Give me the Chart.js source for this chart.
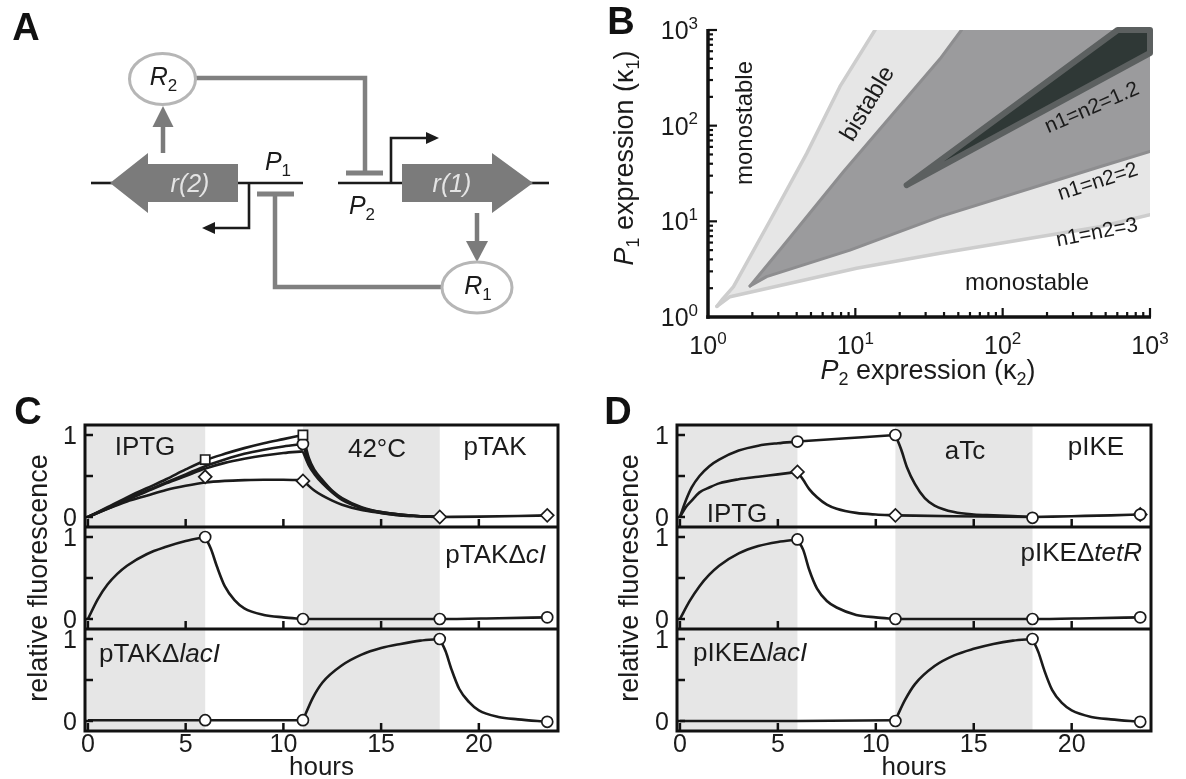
<!DOCTYPE html>
<html>
<head>
<meta charset="utf-8">
<script src="https://cdn.jsdelivr.net/npm/chart.js@4.4.1/dist/chart.umd.min.js"></script>
<style>
  html, body { margin:0; padding:0; background:#ffffff; }
  body { width:1186px; height:779px; position:relative; overflow:hidden; }
  canvas { position:absolute; }
</style>
</head>
<body>
<canvas id="cA" width="600" height="330" style="left:0px;top:0px"></canvas>
<canvas id="cB" width="586" height="400" style="left:600px;top:0px"></canvas>
<canvas id="cC" width="595" height="384" style="left:0px;top:395px"></canvas>
<canvas id="cD" width="591" height="384" style="left:595px;top:395px"></canvas>
<script>
const FONT = '"Liberation Sans", Arial, Helvetica, sans-serif';
const INK = '#1b1b1b';

// ================= Panel B data (P2 expression κ2 on x, P1 expression κ1 on y) =================
const bDecades = [1, 10, 100, 1000];
const bDecadeExp = ['0', '1', '2', '3'];
// n1=n2=3 region (light)
const bN3K2 = [1.15, 1.26, 1.49, 2.64, 4.68, 7.87, 13.6, 1000, 1000, 457, 37.6, 10.2, 3.61, 1.41, 1.15];
const bN3K1 = [1.29, 1.55, 2.08, 10.2, 51.3, 257, 1000, 1000, 11.7, 8.79, 4.63, 3.23, 2.25, 1.63, 1.29];
// n1=n2=2 region (medium)
const bN2K2 = [1.93, 3.16, 8.3, 37.6, 52.5, 1000, 1000, 457, 37.6, 9.2, 2.5, 1.93];
const bN2K1 = [2.11, 5.3, 33, 500, 1000, 1000, 53.7, 37.2, 11.2, 5.0, 2.64, 2.11];
// n1=n2=1.2 region (dark)
const bN12K2 = [22.3, 603, 1000, 1000, 22.3];
const bN12K1 = [23.9, 1000, 1000, 575, 23.9];

// ================= Panels C / D data =================
const hourTicks = [0, 5, 10, 15, 20];
const hourTickLabels = ['0', '5', '10', '15', '20'];
const fluorTicks = [0, 0.5, 1];
const fluorTickLabels = ['0', '', '1'];
const shadeIntervals = [[-1, 6], [11, 18]];

// --- C top: pTAK (four fitted curves) ---
const tRise11 = [0, 1, 2, 3, 4, 5, 6, 7, 8, 9, 10, 11];
const pTAK1Rise = [0, 0.12, 0.24, 0.35, 0.46, 0.58, 0.69, 0.77, 0.84, 0.90, 0.95, 1.00];
const pTAK2Rise = [0, 0.11, 0.22, 0.32, 0.42, 0.52, 0.62, 0.70, 0.77, 0.82, 0.86, 0.89];
const pTAK3Rise = [0, 0.10, 0.21, 0.31, 0.41, 0.50, 0.59, 0.66, 0.71, 0.75, 0.78, 0.80];
const pTAK4Rise = [0, 0.10, 0.19, 0.26, 0.33, 0.38, 0.42, 0.44, 0.45, 0.455, 0.455, 0.45];
const tHeat = [11, 11.3, 11.6, 12, 12.5, 13, 14, 15, 16, 17, 18];
const pTAK1Heat = [1.00, 0.72, 0.57, 0.45, 0.32, 0.23, 0.12, 0.06, 0.03, 0.01, 0];
const pTAK2Heat = [0.89, 0.68, 0.55, 0.43, 0.31, 0.22, 0.11, 0.06, 0.03, 0.01, 0];
const pTAK3Heat = [0.80, 0.63, 0.52, 0.41, 0.30, 0.21, 0.11, 0.05, 0.02, 0.01, 0];
const pTAK4Heat = [0.45, 0.38, 0.32, 0.26, 0.20, 0.15, 0.085, 0.05, 0.02, 0.01, 0];
const tLate = [18, 20, 22, 23.5];
const pTAKLate = [0, 0.005, 0.012, 0.02];
const pTAKSquareT = [6, 11];       const pTAKSquareV = [0.70, 1.00];
const pTAKCircleT = [11];          const pTAKCircleV = [0.89];
const pTAKDiamondT = [6, 11, 18, 23.5]; const pTAKDiamondV = [0.49, 0.44, 0.0, 0.02];

// --- C middle: pTAKΔcI ---
const tA6 = [0, 0.5, 1, 1.5, 2, 3, 4, 5, 6];
const tDrop6 = [6, 6.3, 6.6, 7, 7.5, 8, 9, 10, 11];
const tFlat11 = [11, 14, 18, 21, 23.5];
const tMarks = [6, 11, 18, 23.5];
const cIRise = [0, 0.24, 0.42, 0.55, 0.65, 0.79, 0.88, 0.95, 1.00];
const cIDrop = [1.00, 0.85, 0.64, 0.40, 0.23, 0.13, 0.05, 0.02, 0.0];
const cIFlat = [0, 0, 0, 0.01, 0.02];
const cIMarks = [1.00, 0.0, 0.0, 0.02];

// --- C bottom: pTAKΔlacI ---
const tEarly = [0, 6, 11];
const tB11 = [11, 11.5, 12, 13, 14, 15, 16, 17, 18];
const tDrop18 = [18, 18.3, 18.6, 19, 19.5, 20, 21, 22, 23.5];
const cLacFlat = [0.01, 0.01, 0.01];
const cLacRise = [0.01, 0.28, 0.47, 0.68, 0.81, 0.89, 0.94, 0.98, 1.00];
const cLacDrop = [1.00, 0.85, 0.63, 0.39, 0.23, 0.13, 0.05, 0.02, -0.01];
const cLacMarks = [0.01, 0.01, 1.00, -0.01];

// --- D top: pIKE ---
const tD6 = [0, 0.3, 0.6, 1, 1.5, 2, 3, 4, 5, 6];
const pIKEoRise = [0, 0.20, 0.36, 0.50, 0.62, 0.70, 0.81, 0.87, 0.90, 0.92];
const tD611 = [6, 8.5, 11];
const pIKEoMid = [0.92, 0.96, 1.00];
const tDaTc = [11, 11.3, 11.6, 12, 12.5, 13, 14, 15, 16, 18];
const pIKEoDrop = [1.00, 0.82, 0.60, 0.40, 0.23, 0.14, 0.06, 0.03, 0.02, 0.0];
const pIKEoLate = [0, 0.01, 0.02, 0.03];
const pIKEdRise = [0, 0.12, 0.20, 0.30, 0.36, 0.41, 0.46, 0.49, 0.52, 0.55];
const pIKEdDrop = [0.55, 0.45, 0.34, 0.24, 0.15, 0.10, 0.05, 0.03, 0.02];
const tD1118 = [11, 14, 18];
const pIKEdFlat = [0.02, 0.01, 0.0];
const pIKECircleT = [6, 11, 18, 23.5];  const pIKECircleV = [0.92, 1.00, -0.01, 0.03];
const pIKEDiamondT = [6, 11, 23.5];     const pIKEDiamondV = [0.55, 0.02, 0.03];

// --- D middle: pIKEΔtetR ---
const tetRRise = [0, 0.22, 0.40, 0.54, 0.65, 0.80, 0.89, 0.94, 0.97];
const tetRDrop = [0.97, 0.84, 0.60, 0.37, 0.22, 0.14, 0.05, 0.02, 0.0];
const tetRFlat = [0, 0, 0, 0.01, 0.02];
const tetRMarks = [0.97, 0.0, 0.0, 0.02];

// --- D bottom: pIKEΔlacI ---
const dLacFlat = [0.0, 0.0, 0.01];
const dLacRise = [0.01, 0.26, 0.45, 0.67, 0.80, 0.88, 0.94, 0.98, 1.00];
const dLacDrop = [1.00, 0.84, 0.62, 0.38, 0.22, 0.13, 0.05, 0.02, -0.01];
const dLacMarkT = [11, 18, 23.5];
const dLacMarkV = [0.0, 1.00, -0.01];

// ================= helpers =================
function pts(xs, ys) { return xs.map((x, i) => ({ x: x, y: ys[i] })); }

function drawRich(ctx, segs, x, y, o) {
  o = o || {};
  const size = o.size || 26;
  const small = Math.round(size * 0.66);
  segs = segs.map(s => typeof s === 'string' ? { t: s } : s);
  ctx.save();
  ctx.translate(x, y);
  if (o.rot) ctx.rotate(o.rot);
  const f = s => (s.i ? 'italic ' : '') + (o.bold ? 'bold ' : '') + ((s.sub || s.sup) ? small : size) + 'px ' + FONT;
  let total = 0;
  const ws = segs.map(s => { ctx.font = f(s); const w = ctx.measureText(s.t).width; total += w; return w; });
  let cx = o.align === 'right' ? -total : (o.align === 'left' ? 0 : -total / 2);
  ctx.fillStyle = o.color || INK;
  ctx.textAlign = 'left';
  ctx.textBaseline = o.baseline || 'alphabetic';
  segs.forEach((s, i) => {
    ctx.font = f(s);
    const dy = s.sub ? size * 0.24 : (s.sup ? -size * 0.42 : 0);
    ctx.fillText(s.t, cx, dy);
    cx += ws[i];
  });
  ctx.restore();
}
function seg(ctx, x1, y1, x2, y2) { ctx.beginPath(); ctx.moveTo(x1, y1); ctx.lineTo(x2, y2); ctx.stroke(); }

// ================= Panel A (schematic) =================
const aDeco = {
  id: 'aDeco',
  afterDraw(chart) {
    const { ctx, scales } = chart;
    const X = v => scales.x.getPixelForValue(v), Y = v => scales.y.getPixelForValue(v);
    const poly = (p, fill) => { ctx.beginPath(); p.forEach((q, i) => i ? ctx.lineTo(X(q[0]), Y(q[1])) : ctx.moveTo(X(q[0]), Y(q[1]))); ctx.closePath(); ctx.fillStyle = fill; ctx.fill(); };
    const path = (p, color, w) => { ctx.beginPath(); p.forEach((q, i) => i ? ctx.lineTo(X(q[0]), Y(q[1])) : ctx.moveTo(X(q[0]), Y(q[1]))); ctx.strokeStyle = color; ctx.lineWidth = w; ctx.lineJoin = 'miter'; ctx.lineCap = 'butt'; ctx.stroke(); };
    const GENE = '#7b7b7b', INH = '#808080', ELL = '#b6b6b6';
    ctx.save();
    path([[91, 183], [112, 183]], INK, 2.6);
    path([[236, 183], [303, 183]], INK, 2.6);
    path([[338, 183], [404, 183]], INK, 2.6);
    path([[530, 183], [549, 183]], INK, 2.6);
    poly([[110, 183], [148, 153], [148, 164], [238, 164], [238, 202], [148, 202], [148, 213]], GENE);
    poly([[402, 164], [492, 164], [492, 153], [533, 183], [492, 213], [492, 202], [402, 202]], GENE);
    drawRich(ctx, [{ t: 'r(2)', i: true }], X(190), Y(192), { size: 25, color: '#e4e4e4' });
    drawRich(ctx, [{ t: 'r(1)', i: true }], X(452), Y(192), { size: 25, color: '#e4e4e4' });
    path([[249, 183], [249, 228], [213, 228]], INK, 2.6);
    poly([[202, 228], [215, 222], [215, 234]], INK);
    path([[391, 183], [391, 138], [428, 138]], INK, 2.6);
    poly([[439, 138], [426, 132], [426, 144]], INK);
    path([[257, 194], [294, 194]], INH, 5);
    path([[275, 196], [275, 287], [445, 287]], INH, 4.5);
    path([[346, 173], [383, 173]], INH, 5);
    path([[365, 171], [365, 78], [194, 78]], INH, 4.5);
    path([[163, 153], [163, 124]], GENE, 4.5);
    poly([[163, 106], [152.5, 127], [173.5, 127]], GENE);
    path([[477, 213], [477, 243]], GENE, 4.5);
    poly([[477, 262], [466, 241], [488, 241]], GENE);
    [[162.5, 79, 33, 25.5, '2'], [477, 287.5, 35, 25.5, '1']].forEach(e => {
      ctx.beginPath();
      ctx.ellipse(X(e[0]), Y(e[1]), e[2], e[3], 0, 0, Math.PI * 2);
      ctx.fillStyle = '#fff'; ctx.fill();
      ctx.strokeStyle = ELL; ctx.lineWidth = 3; ctx.stroke();
      drawRich(ctx, [{ t: 'R', i: true }, { t: e[4], sub: true }], X(e[0]) + 1, Y(e[1]) + 6, { size: 25 });
    });
    drawRich(ctx, [{ t: 'P', i: true }, { t: '1', sub: true }], X(278), Y(170), { size: 25 });
    drawRich(ctx, [{ t: 'P', i: true }, { t: '2', sub: true }], X(362), Y(214), { size: 25 });
    drawRich(ctx, ['A'], 26, 40, { size: 38, bold: true, color: '#111' });
    ctx.restore();
  }
};
new Chart(document.getElementById('cA'), {
  type: 'line',
  data: { datasets: [] },
  options: {
    responsive: false, animation: false, events: [],
    layout: { padding: 0 },
    scales: {
      x: { type: 'linear', min: 0, max: 600, display: false },
      y: { type: 'linear', min: 0, max: 330, reverse: true, display: false }
    },
    plugins: { legend: { display: false }, tooltip: { enabled: false } }
  },
  plugins: [aDeco]
});

// ================= Panel B =================
const bOff = { x: 600, y: 0 };
function regionFill(xs, ys, color, clip) {
  return { data: pts(xs, ys), fill: 'shape', backgroundColor: color, borderWidth: 0, borderColor: 'rgba(0,0,0,0)',
           pointRadius: 0, tension: 0, clip: clip };
}
function regionEdge(xs, ys, color, width) {
  return { data: pts(xs, ys), fill: false, borderColor: color, borderWidth: width, borderCapStyle: 'round',
           borderJoinStyle: 'round', pointRadius: 0, tension: 0, clip: 0 };
}
const bDeco = {
  id: 'bDeco',
  afterDatasetsDraw(chart) {
    const { ctx, chartArea: a, scales } = chart;
    const xs = scales.x, ys = scales.y;
    const L = (gx, gy) => [gx - bOff.x, gy - bOff.y];
    ctx.save();
    let p;
    p = L(745, 123); drawRich(ctx, ['monostable'], p[0], p[1], { size: 24, rot: -Math.PI / 2, baseline: 'middle' });
    p = L(868, 104); drawRich(ctx, ['bistable'], p[0], p[1], { size: 24, rot: -59 * Math.PI / 180, baseline: 'middle' });
    p = L(1092, 108); drawRich(ctx, ['n1=n2=1.2'], p[0], p[1], { size: 21, rot: -23.5 * Math.PI / 180, baseline: 'middle' });
    p = L(1098, 182); drawRich(ctx, ['n1=n2=2'], p[0], p[1], { size: 21, rot: -18 * Math.PI / 180, baseline: 'middle' });
    p = L(1097, 233); drawRich(ctx, ['n1=n2=3'], p[0], p[1], { size: 21, rot: -11 * Math.PI / 180, baseline: 'middle' });
    p = L(1027, 283); drawRich(ctx, ['monostable'], p[0], p[1], { size: 24, baseline: 'middle' });
    ctx.strokeStyle = '#111'; ctx.lineCap = 'butt';
    ctx.lineWidth = 3.5;
    seg(ctx, a.left, a.top - 1, a.left, a.bottom + 1.75);
    seg(ctx, a.left - 1.75, a.bottom, a.right + 1, a.bottom);
    ctx.lineWidth = 2.2;
    for (let k = 0; k < 3; k++) {
      for (let m = 1; m <= 9; m++) {
        const v = m * bDecades[k];
        const len = m === 1 ? 9 : 5;
        const px = xs.getPixelForValue(v), py = ys.getPixelForValue(v);
        if (m > 1 || k > 0) {
          seg(ctx, px, a.bottom, px, a.bottom - len);
          seg(ctx, a.left, py, a.left + len, py);
        }
      }
    }
    const top = 1000;
    seg(ctx, xs.getPixelForValue(top), a.bottom, xs.getPixelForValue(top), a.bottom - 9);
    seg(ctx, a.left, ys.getPixelForValue(top), a.left + 9, ys.getPixelForValue(top));
    bDecades.forEach((v, i) => {
      const py = ys.getPixelForValue(v);
      drawRich(ctx, ['10', { t: bDecadeExp[i], sup: true }], a.left - 10, py + 9, { size: 25, align: 'right' });
      const px = xs.getPixelForValue(v);
      drawRich(ctx, ['10', { t: bDecadeExp[i], sup: true }], px, 354 - bOff.y, { size: 25, align: 'center' });
    });
    drawRich(ctx, [{ t: 'P', i: true }, { t: '1', sub: true }, ' expression (', 'κ', { t: '1', sub: true }, ')'], 633 - bOff.x, 158, { size: 27, rot: -Math.PI / 2 });
    drawRich(ctx, [{ t: 'P', i: true }, { t: '2', sub: true }, ' expression (', 'κ', { t: '2', sub: true }, ')'], 928 - bOff.x, 379, { size: 27 });
    drawRich(ctx, ['B'], 621 - bOff.x, 34, { size: 38, bold: true, color: '#111' });
    ctx.restore();
  }
};
new Chart(document.getElementById('cB'), {
  type: 'line',
  data: {
    datasets: [
      { data: pts(bN12K2, bN12K1), fill: 'shape', backgroundColor: '#2f3836', borderColor: '#5c6060', borderWidth: 6,
        borderJoinStyle: 'round', borderCapStyle: 'round', pointRadius: 0, tension: 0, clip: 4 },
      regionEdge(bN2K2.slice(0, 5), bN2K1.slice(0, 5), '#8d8d8f', 3),
      regionEdge(bN2K2.slice(6), bN2K1.slice(6), '#8d8d8f', 3),
      regionFill(bN2K2, bN2K1, '#9b9b9d', 0),
      regionEdge(bN3K2.slice(0, 7), bN3K1.slice(0, 7), '#cdcdcd', 3.5),
      regionEdge(bN3K2.slice(8), bN3K1.slice(8), '#cdcdcd', 3.5),
      regionFill(bN3K2, bN3K1, '#e6e6e6', 0)
    ]
  },
  options: {
    responsive: false, animation: false, events: [],
    layout: { padding: { left: 108, right: 36, top: 30, bottom: 83 } },
    scales: {
      x: { type: 'logarithmic', min: 1, max: 1000, display: false },
      y: { type: 'logarithmic', min: 1, max: 1000, display: false }
    },
    plugins: { legend: { display: false }, tooltip: { enabled: false } }
  },
  plugins: [bDeco]
});

// ================= Panels C / D =================
function curve(xs, ys, axis) {
  return { data: pts(xs, ys), yAxisID: axis, borderColor: INK, borderWidth: 2.6, pointRadius: 0,
           cubicInterpolationMode: 'monotone', fill: false, clip: 3 };
}
function marks(xs, ys, axis, style) {
  return { data: pts(xs, ys), yAxisID: axis, showLine: false, pointStyle: style,
           pointRadius: style === 'circle' ? 5.5 : 6.5, pointBackgroundColor: '#fff',
           pointBorderColor: INK, pointBorderWidth: 1.7, clip: false };
}
function makeTimeDeco(deco) {
  return {
    id: 'timeDeco',
    beforeDatasetsDraw(chart) {
      const { ctx, chartArea: a, scales } = chart;
      ctx.save(); ctx.fillStyle = '#e6e6e6';
      shadeIntervals.forEach(iv => {
        const x1 = Math.max(a.left, scales.x.getPixelForValue(iv[0]));
        const x2 = Math.min(a.right, scales.x.getPixelForValue(iv[1]));
        ctx.fillRect(x1, a.top, x2 - x1, a.bottom - a.top);
      });
      ctx.restore();
    },
    afterDatasetsDraw(chart) {
      const { ctx, chartArea: a, scales } = chart;
      const xs = scales.x;
      const subs = [scales.yTop, scales.yMid, scales.yBot];
      const ox = deco.off.x, oy = deco.off.y;
      ctx.save();
      ctx.strokeStyle = '#111'; ctx.lineCap = 'butt';
      ctx.lineWidth = 2.5;
      subs.forEach(s => {
        fluorTicks.forEach(v => { const y = s.getPixelForValue(v); seg(ctx, a.left, y, a.left + 8, y); });
        hourTicks.forEach(h => { const x = xs.getPixelForValue(h); seg(ctx, x, s.bottom, x, s.bottom - 8); });
      });
      ctx.lineWidth = 3;
      [scales.yMid.top, scales.yBot.top].forEach(y => seg(ctx, a.left, y, a.right, y));
      ctx.strokeRect(a.left, a.top, a.right - a.left, a.bottom - a.top);
      subs.forEach(s => {
        fluorTicks.forEach((v, i) => {
          if (!fluorTickLabels[i]) return;
          drawRich(ctx, [fluorTickLabels[i]], a.left - 8, s.getPixelForValue(v) + 9, { size: 25, align: 'right' });
        });
      });
      hourTicks.forEach((h, i) => drawRich(ctx, [hourTickLabels[i]], xs.getPixelForValue(h), 752 - oy, { size: 25 }));
      drawRich(ctx, ['hours'], (a.left + a.right) / 2, 775 - oy, { size: 26 });
      drawRich(ctx, ['relative fluorescence'], deco.titleX - ox, (a.top + a.bottom) / 2, { size: 27, rot: -Math.PI / 2 });
      deco.texts.forEach(t => drawRich(ctx, t.segs, t.x - ox, t.y - oy, { size: 26, align: t.align || 'center' }));
      drawRich(ctx, [deco.letter], deco.letterX - ox, 424 - oy, { size: 38, bold: true, color: '#111' });
      ctx.restore();
    }
  };
}
function timeChart(id, datasets, deco) {
  const yOpt = { type: 'linear', min: -0.122, max: 1.122, display: false, position: 'left', stack: 'rf', stackWeight: 1 };
  return new Chart(document.getElementById(id), {
    type: 'line',
    data: { datasets: datasets },
    options: {
      responsive: false, animation: false, events: [],
      layout: { padding: deco.padding },
      scales: {
        x: { type: 'linear', min: -0.15, max: 24.05, display: false },
        yBot: Object.assign({}, yOpt),
        yMid: Object.assign({}, yOpt),
        yTop: Object.assign({}, yOpt)
      },
      plugins: { legend: { display: false }, tooltip: { enabled: false } }
    },
    plugins: [makeTimeDeco(deco)]
  });
}

timeChart('cC', [
  marks(pTAKSquareT, pTAKSquareV, 'yTop', 'rect'),
  marks(pTAKCircleT, pTAKCircleV, 'yTop', 'circle'),
  marks(pTAKDiamondT, pTAKDiamondV, 'yTop', 'rectRot'),
  marks(tMarks, cIMarks, 'yMid', 'circle'),
  marks(tMarks, cLacMarks, 'yBot', 'circle'),
  curve(tRise11, pTAK1Rise, 'yTop'), curve(tRise11, pTAK2Rise, 'yTop'),
  curve(tRise11, pTAK3Rise, 'yTop'), curve(tRise11, pTAK4Rise, 'yTop'),
  curve(tHeat, pTAK1Heat, 'yTop'), curve(tHeat, pTAK2Heat, 'yTop'),
  curve(tHeat, pTAK3Heat, 'yTop'), curve(tHeat, pTAK4Heat, 'yTop'),
  curve(tLate, pTAKLate, 'yTop'),
  curve(tA6, cIRise, 'yMid'), curve(tDrop6, cIDrop, 'yMid'), curve(tFlat11, cIFlat, 'yMid'),
  curve(tEarly, cLacFlat, 'yBot'), curve(tB11, cLacRise, 'yBot'), curve(tDrop18, cLacDrop, 'yBot')
], {
  off: { x: 0, y: 395 },
  padding: { left: 85, right: 37, top: 30, bottom: 48 },
  titleX: 47, letter: 'C', letterX: 28,
  texts: [
    { segs: ['IPTG'], x: 145, y: 455 },
    { segs: ['42°C'], x: 377, y: 457 },
    { segs: ['pTAK'], x: 495, y: 455 },
    { segs: ['pTAKΔ', { t: 'cI', i: true }], x: 546, y: 563, align: 'right' },
    { segs: ['pTAKΔ', { t: 'lacI', i: true }], x: 99, y: 662, align: 'left' }
  ]
});

timeChart('cD', [
  marks(pIKECircleT, pIKECircleV, 'yTop', 'circle'),
  marks(pIKEDiamondT, pIKEDiamondV, 'yTop', 'rectRot'),
  marks(tMarks, tetRMarks, 'yMid', 'circle'),
  marks(dLacMarkT, dLacMarkV, 'yBot', 'circle'),
  curve(tD6, pIKEoRise, 'yTop'), curve(tD611, pIKEoMid, 'yTop'), curve(tDaTc, pIKEoDrop, 'yTop'),
  curve(tLate, pIKEoLate, 'yTop'),
  curve(tD6, pIKEdRise, 'yTop'), curve(tDrop6, pIKEdDrop, 'yTop'), curve(tD1118, pIKEdFlat, 'yTop'),
  curve(tA6, tetRRise, 'yMid'), curve(tDrop6, tetRDrop, 'yMid'), curve(tFlat11, tetRFlat, 'yMid'),
  curve(tEarly, dLacFlat, 'yBot'), curve(tB11, dLacRise, 'yBot'), curve(tDrop18, dLacDrop, 'yBot')
], {
  off: { x: 595, y: 395 },
  padding: { left: 82, right: 35, top: 30, bottom: 48 },
  titleX: 638, letter: 'D', letterX: 618,
  texts: [
    { segs: ['IPTG'], x: 737, y: 522 },
    { segs: ['aTc'], x: 965, y: 459 },
    { segs: ['pIKE'], x: 1096, y: 455 },
    { segs: ['pIKEΔ', { t: 'tetR', i: true }], x: 1142, y: 561, align: 'right' },
    { segs: ['pIKEΔ', { t: 'lacI', i: true }], x: 693, y: 661, align: 'left' }
  ]
});
</script>
</body>
</html>
